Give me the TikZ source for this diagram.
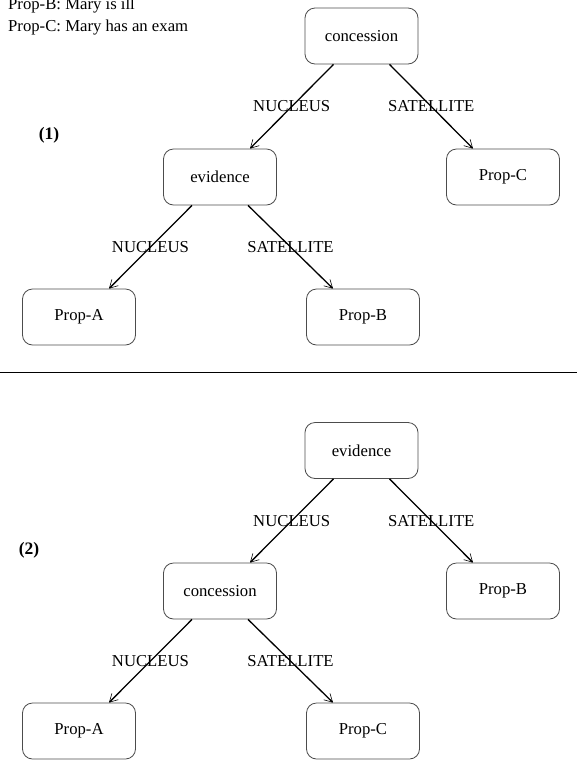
\documentclass[tikz,border=0pt]{standalone}
\usepackage{fontspec}
\setmainfont{Liberation Serif}
\usetikzlibrary{arrows.meta}

\begin{document}
\begin{tikzpicture}[x=1pt,y=-1pt,>={Straight Barb[length=8pt,width=9pt,line width=0.6pt]},relbox/.style={draw=black!70,line width=0.8pt,rounded corners=10pt,minimum width=113pt,minimum height=56pt,inner sep=0pt,font=\fontsize{16.7}{20}\selectfont},role/.style={font=\fontsize{16.7}{20}\selectfont,inner sep=0pt},link/.style={->,line width=1.3pt}]
  \useasboundingbox (0,0) rectangle (577,761);
  \clip (0,0) rectangle (577,761);
  \node[role,anchor=base west] (propb) at (8,9) {Prop-B: Mary is ill};
  \node[role,anchor=base west] (propc) at (8,31) {Prop-C: Mary has an exam};
  % tree (1)
  \node[role,font=\fontsize{17.5}{20}\selectfont\bfseries] (one) at (49,135) {(1)};
  \node[relbox] (conc1) at (361.5,36) {concession};
  \node[relbox] (evid1) at (220,177) {evidence};
  \node[relbox] (c1) at (503,177) {Prop-C};
  \node[relbox] (a1) at (79,317) {Prop-A};
  \node[relbox] (b1) at (363,317) {Prop-B};
  \draw[link] ([xshift=-28pt]conc1.south) -- node[role] {NUCLEUS} ([xshift=30pt]evid1.north);
  \draw[link] ([xshift=28pt]conc1.south) -- node[role] {SATELLITE} ([xshift=-30pt]c1.north);
  \draw[link] ([xshift=-28pt]evid1.south) -- node[role] {NUCLEUS} ([xshift=30pt]a1.north);
  \draw[link] ([xshift=28pt]evid1.south) -- node[role] {SATELLITE} ([xshift=-30pt]b1.north);
  \draw[line width=0.9pt] (0,372) -- (577,372);
  % tree (2)
  \node[role,font=\fontsize{17.5}{20}\selectfont\bfseries] (two) at (29,550) {(2)};
  \node[relbox] (evid2) at (361.5,450.5) {evidence};
  \node[relbox] (conc2) at (220,591) {concession};
  \node[relbox] (b2) at (503,591) {Prop-B};
  \node[relbox] (a2) at (79,731) {Prop-A};
  \node[relbox] (c2) at (363,731) {Prop-C};
  \draw[link] ([xshift=-28pt]evid2.south) -- node[role] {NUCLEUS} ([xshift=30pt]conc2.north);
  \draw[link] ([xshift=28pt]evid2.south) -- node[role] {SATELLITE} ([xshift=-30pt]b2.north);
  \draw[link] ([xshift=-28pt]conc2.south) -- node[role] {NUCLEUS} ([xshift=30pt]a2.north);
  \draw[link] ([xshift=28pt]conc2.south) -- node[role] {SATELLITE} ([xshift=-30pt]c2.north);
\end{tikzpicture}
\end{document}
